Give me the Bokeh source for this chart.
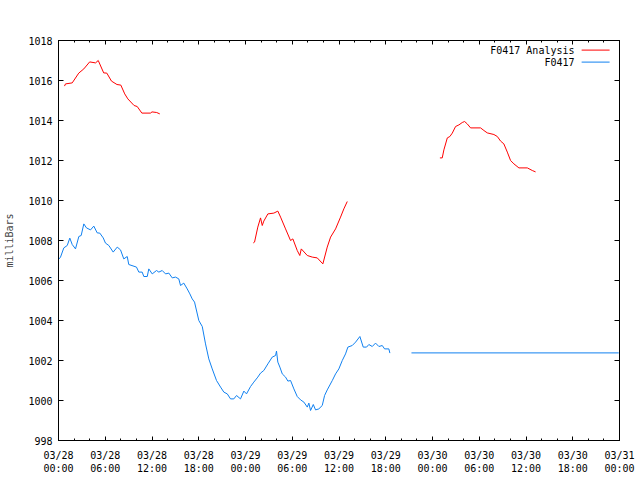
from bokeh.plotting import figure
from bokeh.models import Range1d, LinearAxis, FixedTicker, Label
from bokeh.embed import file_html
from bokeh.resources import INLINE

# hours since 2024-03-28 00:00 UTC, pressure in millibars
red1_h = [0.77, 0.90, 1.76, 2.60, 3.25, 4.00, 4.75, 5.10, 5.80, 6.20, 6.80, 7.50, 8.00, 8.50, 8.90,
          9.70, 10.10, 10.70, 11.80, 12.00, 12.60, 13.00]
red1_p = [1015.72, 1015.83, 1015.88, 1016.37, 1016.58, 1016.93, 1016.88, 1017.00, 1016.38, 1016.37,
          1015.97, 1015.80, 1015.77, 1015.33, 1015.08, 1014.75, 1014.70, 1014.37, 1014.37, 1014.43,
          1014.40, 1014.33]

red2_h = [25.00, 25.16, 25.58, 25.93, 26.15, 26.35, 26.87, 27.64, 28.15, 28.50, 29.14, 29.78, 30.08,
          30.64, 30.97, 31.16, 31.93, 32.57, 33.21, 33.93, 34.49, 34.92, 35.56, 36.20, 36.62, 37.06]
red2_p = [1007.88, 1007.92, 1008.67, 1009.13, 1008.75, 1008.97, 1009.33, 1009.37, 1009.47, 1009.17,
          1008.58, 1008.00, 1008.08, 1007.50, 1007.25, 1007.58, 1007.25, 1007.17, 1007.13, 1006.83,
          1007.67, 1008.17, 1008.58, 1009.17, 1009.58, 1009.95]

red3_h = [48.95, 49.25, 49.46, 49.90, 50.23, 50.54, 50.96, 51.39, 51.82, 52.12, 52.46, 52.89, 54.17,
          54.60, 55.03, 55.88, 56.32, 56.74, 57.16, 57.60, 58.02, 58.45, 59.09, 60.17, 60.81, 61.23]
red3_p = [1012.13, 1012.13, 1012.53, 1013.13, 1013.20, 1013.37, 1013.70, 1013.78, 1013.90, 1013.95,
          1013.83, 1013.63, 1013.63, 1013.50, 1013.38, 1013.30, 1013.20, 1012.97, 1012.83, 1012.42,
          1012.00, 1011.83, 1011.63, 1011.63, 1011.50, 1011.43]

blue1_h = [0.00, 0.26, 0.68, 1.12, 1.45, 1.76, 2.18, 2.61, 2.91, 3.25, 3.59, 4.11, 4.53, 4.97, 5.30,
           5.74, 6.03, 6.46, 7.02, 7.54, 7.96, 8.38, 8.82, 9.02, 10.01, 10.31, 10.74, 10.95, 11.39,
           11.59, 12.03, 12.58, 12.88, 13.31, 13.74, 14.16, 14.60, 15.02, 15.44, 15.66, 16.08, 16.52,
           16.86, 17.16, 17.46, 18.01, 18.45, 18.87, 19.29, 19.73, 20.28, 20.80, 21.22, 21.66, 22.08,
           22.50, 22.85, 23.36, 23.79, 24.13, 24.65, 25.07, 25.58, 25.93, 26.35, 26.87, 27.43, 27.86,
           27.98, 28.15, 28.41, 28.72, 29.14, 29.44, 29.78, 30.21, 30.64, 31.07, 31.49, 31.93, 32.13,
           32.35, 32.70, 32.99, 33.41, 33.85, 34.15, 34.49, 35.14, 35.56, 35.98, 36.42, 36.84, 37.14,
           37.70, 38.13, 38.68, 39.11, 39.54, 39.83, 40.27, 40.69, 41.12, 41.55, 41.85, 42.40, 42.53]
blue1_p = [1007.05, 1007.17, 1007.63, 1007.75, 1008.12, 1007.80, 1007.58, 1008.20, 1008.25, 1008.83,
           1008.63, 1008.53, 1008.72, 1008.38, 1008.37, 1008.13, 1007.87, 1007.75, 1007.42, 1007.67,
           1007.53, 1007.08, 1007.20, 1006.80, 1006.67, 1006.42, 1006.42, 1006.20, 1006.20, 1006.58,
           1006.33, 1006.50, 1006.42, 1006.50, 1006.33, 1006.37, 1006.13, 1006.17, 1006.08, 1005.75,
           1005.87, 1005.58, 1005.33, 1005.08, 1004.92, 1004.00, 1003.70, 1002.83, 1002.08, 1001.58,
           1001.00, 1000.67, 1000.42, 1000.33, 1000.08, 1000.08, 1000.25, 1000.08, 1000.47, 1000.33,
           1000.70, 1000.92, 1001.17, 1001.37, 1001.50, 1001.83, 1002.17, 1002.25, 1002.47, 1001.92,
           1001.67, 1001.33, 1001.17, 1000.97, 1001.00, 1000.58, 1000.20, 1000.03, 999.92, 999.67,
           999.87, 999.50, 999.80, 999.53, 999.58, 999.75, 1000.25, 1000.53, 1001.00, 1001.33,
           1001.58, 1002.00, 1002.33, 1002.67, 1002.75, 1002.92, 1003.20, 1002.67, 1002.67, 1002.80,
           1002.70, 1002.87, 1002.70, 1002.75, 1002.58, 1002.58, 1002.37]

blue2_h = [45.30, 71.90]
blue2_p = [1002.38, 1002.38]

x_ticks = [0, 6, 12, 18, 24, 30, 36, 42, 48, 54, 60, 66, 72]
x_dates = ["03/28", "03/28", "03/28", "03/28", "03/29", "03/29", "03/29", "03/29",
           "03/30", "03/30", "03/30", "03/30", "03/31"]
x_times = ["00:00", "06:00", "12:00", "18:00", "00:00", "06:00", "12:00", "18:00",
           "00:00", "06:00", "12:00", "18:00", "00:00"]
x_minor = list(range(0, 73, 2))
y_ticks = [998, 1000, 1002, 1004, 1006, 1008, 1010, 1012, 1014, 1016, 1018]

RED = "#ff0000"
BLUE = "#1080f0"
FONT = "DejaVu Sans Mono"
FS = "10px"

p = figure(width=640, height=480, output_backend="svg", toolbar_location=None,
           x_range=Range1d(0, 72), y_range=Range1d(998, 1018),
           x_axis_location=None, y_axis_location=None,
           min_border_left=58, min_border_right=21, min_border_top=40, min_border_bottom=40)
p.xgrid.visible = False
p.ygrid.visible = False
p.outline_line_color = "black"
p.background_fill_color = "white"
p.border_fill_color = "white"

def style_x(ax, labels):
    ax.ticker = FixedTicker(ticks=x_ticks, minor_ticks=x_minor)
    ax.major_tick_in = 4
    ax.major_tick_out = 0
    ax.minor_tick_in = 2
    ax.minor_tick_out = 0
    ax.axis_line_color = "black"
    ax.major_tick_line_color = "black"
    ax.minor_tick_line_color = "black"
    ax.major_label_text_font = FONT
    ax.major_label_text_font_size = FS
    ax.major_label_text_color = "black" if labels else None
    ax.major_label_standoff = 9

def style_y(ax, labels):
    ax.ticker = FixedTicker(ticks=y_ticks)
    ax.major_tick_in = 5
    ax.major_tick_out = 0
    ax.minor_tick_line_color = None
    ax.axis_line_color = "black"
    ax.major_tick_line_color = "black"
    ax.major_label_text_font = FONT
    ax.major_label_text_font_size = FS
    ax.major_label_text_color = "black" if labels else None
    ax.major_label_standoff = 6

xb = LinearAxis()
style_x(xb, True)
xb.major_label_overrides = {t: d + "\n" + h for t, d, h in zip(x_ticks, x_dates, x_times)}
p.add_layout(xb, "below")

xt = LinearAxis()
style_x(xt, False)
p.add_layout(xt, "above")

yl = LinearAxis(axis_label="milliBars")
style_y(yl, True)
yl.axis_label_text_font = FONT
yl.axis_label_text_font_size = FS
yl.axis_label_text_font_style = "normal"
yl.axis_label_standoff = 10
p.add_layout(yl, "left")

yr = LinearAxis()
style_y(yr, False)
p.add_layout(yr, "right")

p.line(red1_h, red1_p, line_color=RED, line_width=1)
p.line(red2_h, red2_p, line_color=RED, line_width=1)
p.line(red3_h, red3_p, line_color=RED, line_width=1)
p.line(blue1_h, blue1_p, line_color=BLUE, line_width=1)
p.line(blue2_h, blue2_p, line_color=BLUE, line_width=1)

# title
p.add_layout(Label(x=281, y=421, x_units="screen", y_units="screen",
                   text="Barometric Pressure for F0417 on 2024-Mar-28 (time in UTC)",
                   text_align="center", text_baseline="middle",
                   text_font=FONT, text_font_size=FS, text_color="black"))

# legend (gnuplot style: key text, then sample line to its right)
p.add_layout(Label(x=516, y=390, x_units="screen", y_units="screen", text="F0417 Analysis",
                   text_align="right", text_baseline="middle",
                   text_font=FONT, text_font_size=FS, text_color="black"))
p.add_layout(Label(x=516, y=378, x_units="screen", y_units="screen", text="F0417",
                   text_align="right", text_baseline="middle",
                   text_font=FONT, text_font_size=FS, text_color="black"))
p.segment(x0=[67.14], y0=[1017.52], x1=[70.73], y1=[1017.52], line_color=RED, line_width=1)
p.segment(x0=[67.14], y0=[1016.92], x1=[70.73], y1=[1016.92], line_color=BLUE, line_width=1)

open("out.html", "w").write(file_html(p, INLINE))
